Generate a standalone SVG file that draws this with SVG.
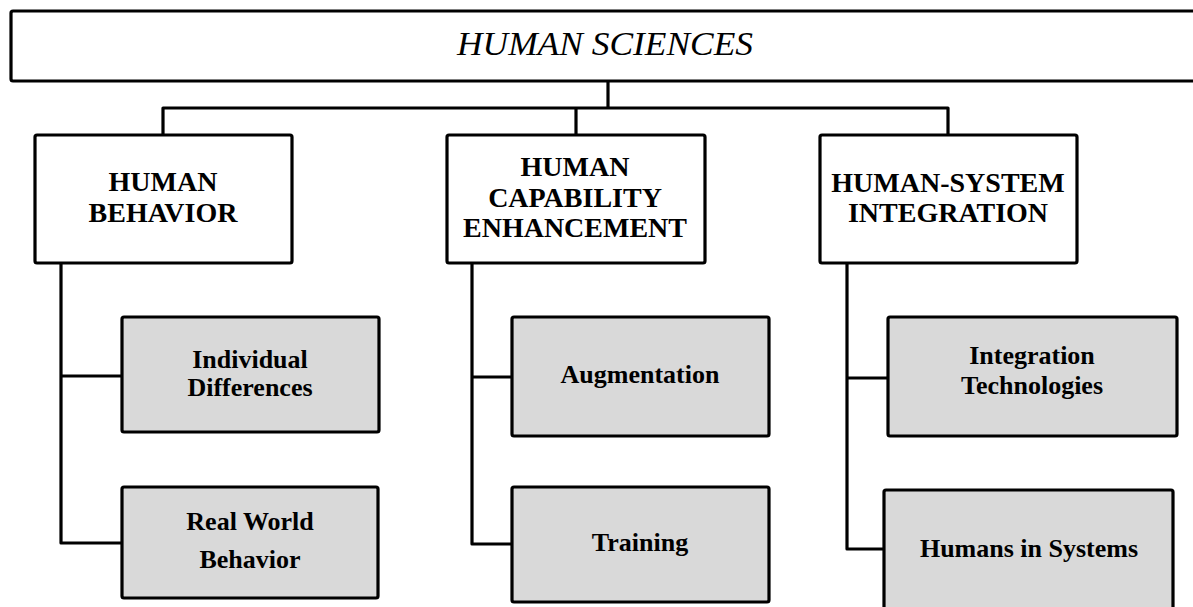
<svg xmlns="http://www.w3.org/2000/svg" width="1193" height="607" viewBox="0 0 1193 607">
<style>
.box{fill:#ffffff;stroke:#000;stroke-width:3.2}
.sub{fill:#d9d9d9;stroke:#000;stroke-width:3.2}
.con{fill:none;stroke:#000;stroke-width:3.2;stroke-linejoin:round}
.title{font-style:italic;font-size:33px;text-anchor:middle;fill:#000}
.hd{font-weight:bold;font-size:28px;text-anchor:middle;fill:#000}
.sb{font-weight:bold;font-size:26px;text-anchor:middle;fill:#000}
</style>
<rect width="1193" height="607" fill="#fff"/>
<g id="connectors">
<path class="con" d="M608 81 V108"/>
<path class="con" d="M163 135 V108 H948 V135"/>
<path class="con" d="M576 108 V135"/>
<path class="con" d="M61 263 V543 H122"/>
<path class="con" d="M61 376 H122"/>
<path class="con" d="M472 263 V544 H512"/>
<path class="con" d="M472 377 H512"/>
<path class="con" d="M847 263 V549 H884"/>
<path class="con" d="M847 378 H888"/>
</g>
<g font-family="Liberation Serif, DejaVu Serif, serif">
<g id="human-sciences">
<rect class="box" x="11" y="11" width="1200" height="70" rx="2"/>
<text class="title" x="605" y="55" textLength="296" lengthAdjust="spacingAndGlyphs">HUMAN SCIENCES</text>
</g>
<g id="human-behavior">
<rect class="box" x="35" y="135" width="257" height="128" rx="2"/>
<text class="hd" x="163" y="191">HUMAN</text>
<text class="hd" x="163" y="222">BEHAVIOR</text>
</g>
<g id="human-capability">
<rect class="box" x="447" y="135" width="258" height="128" rx="2"/>
<text class="hd" x="575" y="176">HUMAN</text>
<text class="hd" x="575" y="207">CAPABILITY</text>
<text class="hd" x="575" y="237">ENHANCEMENT</text>
</g>
<g id="human-system">
<rect class="box" x="820" y="135" width="257" height="128" rx="2"/>
<text class="hd" x="948" y="192">HUMAN-SYSTEM</text>
<text class="hd" x="948" y="222">INTEGRATION</text>
</g>
<g id="individual-differences">
<rect class="sub" x="122" y="317" width="257" height="115" rx="2"/>
<text class="sb" x="250" y="368">Individual</text>
<text class="sb" x="250" y="396">Differences</text>
</g>
<g id="real-world-behavior">
<rect class="sub" x="122" y="487" width="256" height="111" rx="2"/>
<text class="sb" x="250" y="530">Real World</text>
<text class="sb" x="250" y="568">Behavior</text>
</g>
<g id="augmentation">
<rect class="sub" x="512" y="317" width="257" height="119" rx="2"/>
<text class="sb" x="640" y="383">Augmentation</text>
</g>
<g id="training">
<rect class="sub" x="512" y="487" width="257" height="115" rx="2"/>
<text class="sb" x="640" y="551">Training</text>
</g>
<g id="integration-technologies">
<rect class="sub" x="888" y="317" width="289" height="119" rx="2"/>
<text class="sb" x="1032" y="364">Integration</text>
<text class="sb" x="1032" y="394">Technologies</text>
</g>
<g id="humans-in-systems">
<rect class="sub" x="884" y="490" width="289" height="130" rx="2"/>
<text class="sb" x="1029" y="557">Humans in Systems</text>
</g>
</g>
</svg>
